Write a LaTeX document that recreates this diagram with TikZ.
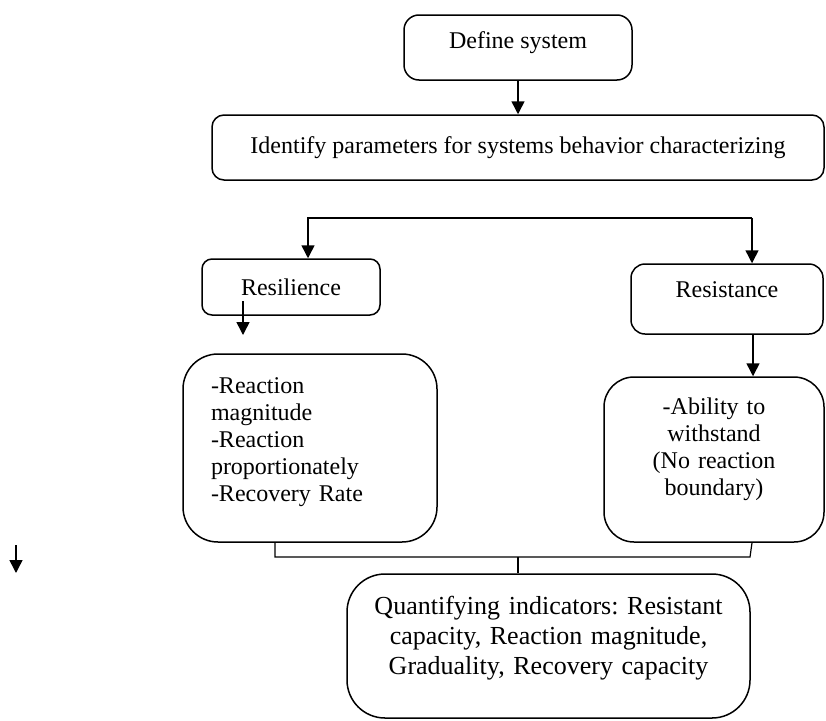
\documentclass[tikz,border=0pt]{standalone}
\usepackage{fontspec}
\setmainfont{Liberation Serif}
\usepackage{tikz}
\usetikzlibrary{arrows.meta}
\frenchspacing

\begin{document}
\begin{tikzpicture}[x=1pt, y=-1pt, line width=1.5pt,
    box/.style={draw, inner sep=0pt, font=\fontsize{24}{27}\selectfont},
    arr/.style={-{Triangle[length=13pt, width=13pt]}}]
    \useasboundingbox (0,0) rectangle (826,720);
    % top of the chart
    \node [box, rounded corners=15pt, minimum width=228pt, minimum height=65pt, text depth=14pt] (define) at (518, 47.5) {Define system};
    \node [box, rounded corners=12pt, minimum width=612pt, minimum height=65pt] (identify) at (518, 147.5) {Identify parameters for systems behavior characterizing};
    \draw [arr] (define.south) to (identify.north);
    % two branches
    \node [box, rounded corners=10pt, minimum width=178pt, minimum height=56pt] (resil) at (291, 287) {Resilience};
    \node [box, rounded corners=14pt, minimum width=192pt, minimum height=70pt, text depth=19pt] (resist) at (727, 299) {Resistance};
    \coordinate (brl) at (308, 218);
    \coordinate (brr) at (752, 218);
    \draw [arr] (brr) to (brl) to (brl |- resil.north);
    \draw [arr] (brr) to (brr |- resist.north);
    % lists
    \node [box, rounded corners=35pt, minimum width=254pt, minimum height=188pt, text width=198pt, align=left, text depth=124pt] (react) at (310, 448) {-Reaction\\magnitude\\-Reaction\\proportionately\\-Recovery Rate};
    \node [box, rounded corners=30pt, minimum width=220pt, minimum height=165pt, text width=180pt, align=center, text depth=107pt] (withstand) at (714, 459.5) {-Ability to\\withstand\\(No reaction\\boundary)};
    \coordinate (rs) at (243, 301);
    \coordinate (re) at (243, 335);
    \draw [arr] (rs) to (re);
    \draw [arr] ([xshift=26pt]resist.south) to ([xshift=26pt]resist.south |- withstand.north);
    % result
    \node [box, rounded corners=38pt, minimum width=403pt, minimum height=144pt, text width=380pt, align=center, text depth=81.5pt, font=\fontsize{26}{30}\selectfont] (quant) at (548.5, 646) {Quantifying indicators: Resistant\\capacity, Reaction magnitude,\\Graduality, Recovery capacity};
    \coordinate (jl) at (275, 557);
    \coordinate (jr) at (750, 557);
    \coordinate (jm) at (518, 557);
    \draw [line width=1.2pt] (jl |- react.south) to (jl) to (jr) to ([xshift=2pt]jr |- withstand.south);
    \draw [line width=1.2pt] (jm) to (jm |- quant.north);
    % loose arrow on the left
    \coordinate (s1) at (16, 545);
    \coordinate (s2) at (16, 573);
    \draw [arr] (s1) to (s2);
\end{tikzpicture}
\end{document}
